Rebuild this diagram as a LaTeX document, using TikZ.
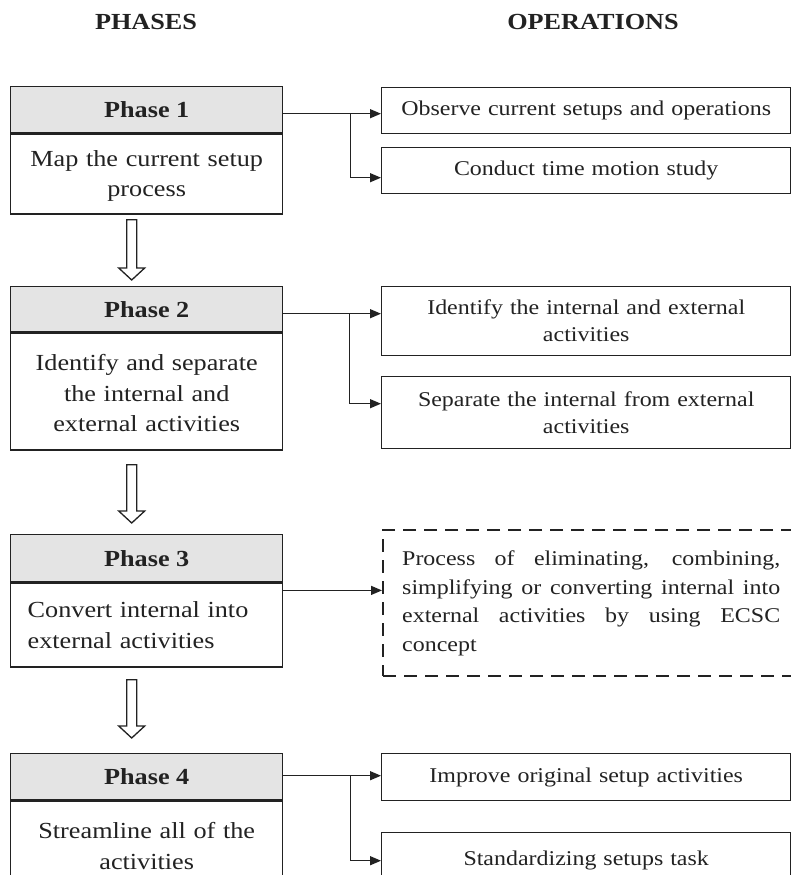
\documentclass[tikz,border=0pt]{standalone}
\usepackage{fontspec}
\setmainfont{Liberation Serif}[FakeStretch=1.14]
\usetikzlibrary{calc,arrows.meta}
\definecolor{hdr}{HTML}{E4E4E4}
\definecolor{ink}{HTML}{222222}
\tikzset{
 phasehead/.style={draw=ink, line width=1.4pt, fill=hdr, anchor=north west, minimum width=272pt, inner sep=0pt, font=\fontsize{23}{26}\selectfont\bfseries, text=ink},
 phasebody/.style={draw=ink, line width=1.4pt, anchor=north west, minimum width=272pt, text width=260pt, inner xsep=6pt, inner ysep=0pt, align=center, font=\fontsize{23}{30.5}\selectfont, text=ink},
 opbox/.style={draw=ink, line width=1.4pt, anchor=north west, minimum width=409pt, text width=395pt, inner xsep=7pt, inner ysep=0pt, align=center, font=\fontsize{21}{27}\selectfont, text=ink},
 dashbox/.style={draw=ink, line width=2.4pt, dash pattern=on 13pt off 8pt, anchor=north west, text width=378pt, inner xsep=19pt, inner ysep=0pt, minimum height=146pt, align=justify, font=\fontsize{21}{28.5}\selectfont, text=ink},
 conn/.style={draw=ink, line width=1.3pt, -{Triangle[length=11pt,width=9pt]}},
 hollow/.style={draw=ink, line width=1.3pt, fill=white, line join=miter},
 colhead/.style={font=\fontsize{23}{26}\selectfont\bfseries, text=ink},
}
\newcommand\hollowarrow[4]{%
 \draw[hollow] let \p1=($(#1)+(-15,#3)$), \p2=($(#2)+(-15,-#4)$) in
  (\x1-5pt,\y1) -- (\x1+5pt,\y1) -- (\x1+5pt,\y2+12pt) -- (\x1+13pt,\y2+12pt)
  -- (\x1,\y2) -- (\x1-13pt,\y2+12pt) -- (\x1-5pt,\y2+12pt) -- cycle;}
\newcommand\topstrut{\rule{0pt}{20pt}}
\begin{document}
\begin{tikzpicture}[x=1pt,y=-1pt]
\useasboundingbox (0,0) rectangle (791,875);
\clip (0,0) rectangle (791,875);
\fill[white] (0,0) rectangle (791,875);

\node[colhead] (hp) at (146,22) {PHASES};
\node[colhead] (ho) at (593,22) {OPERATIONS};

% phases
\node[phasehead, minimum height=46pt] (p1h) at (10,86) {Phase 1};
\node[phasebody, minimum height=80pt] (p1b) at (p1h.south west) {\topstrut Map the current setup\\process};
\node[phasehead, minimum height=45pt] (p2h) at (10,286) {Phase 2};
\node[phasebody, minimum height=117pt] (p2b) at (p2h.south west) {\topstrut Identify and separate\\the internal and\\external activities};
\node[phasehead, minimum height=47pt] (p3h) at (10,534) {Phase 3};
\node[phasebody, minimum height=84pt, align=left, text width=238pt, inner xsep=17pt] (p3b) at (p3h.south west) {Convert internal into\\external activities};
\node[phasehead, minimum height=46pt] (p4h) at (10,753) {Phase 4};
\node[phasebody, minimum height=86pt] (p4b) at (p4h.south west) {\topstrut Streamline all of the\\activities};

% operations
\node[opbox, minimum height=46pt] (o1a) at (381,87) {Observe current setups and operations};
\node[opbox, minimum height=46pt] (o1b) at (381,147) {Conduct time motion study};
\node[opbox, minimum height=69pt] (o2a) at (381,286) {Identify the internal and external\\activities};
\node[opbox, minimum height=72pt] (o2b) at (381,376) {Separate the internal from external\\activities};
\node[dashbox] (o3) at (382,529) {\hyphenpenalty10000\relax Process of eliminating, combining,\linebreak simplifying or converting internal into\linebreak external activities by using ECSC\linebreak concept};
\node[opbox, minimum height=47pt] (o4a) at (381,753) {Improve original setup activities};
\node[opbox, minimum height=56pt] (o4b) at (381,832) {Standardizing setups task};

% connectors
\coordinate (s1) at ($(p1h.east)+(0,4)$);
\coordinate (b1) at ($(s1)+(67,0)$);
\draw[conn] (s1) -- (s1 -| o1a.west);
\draw[conn] (b1) |- ($(o1b.west)+(0,7)$);

\coordinate (s2) at ($(p2h.east)+(0,4.5)$);
\coordinate (b2) at ($(s2)+(66,0)$);
\draw[conn] (s2) -- (s2 -| o2a.west);
\draw[conn] (b2) |- ($(o2b.west)+(0,-9)$);

\coordinate (s3) at ($(p3b.north east)+(0,8)$);
\draw[conn] (s3) -- (s3 -| o3.west);

\coordinate (s4) at ($(p4h.east)+(0,-1)$);
\coordinate (b4) at ($(s4)+(67,0)$);
\draw[conn] (s4) -- (s4 -| o4a.west);
\draw[conn] (b4) |- (o4b.west);

% hollow arrows between phases
\hollowarrow{p1b.south}{p2h.north}{5}{6}
\hollowarrow{p2b.south}{p3h.north}{14}{11}
\hollowarrow{p3b.south}{p4h.north}{12}{15}
\end{tikzpicture}
\end{document}
